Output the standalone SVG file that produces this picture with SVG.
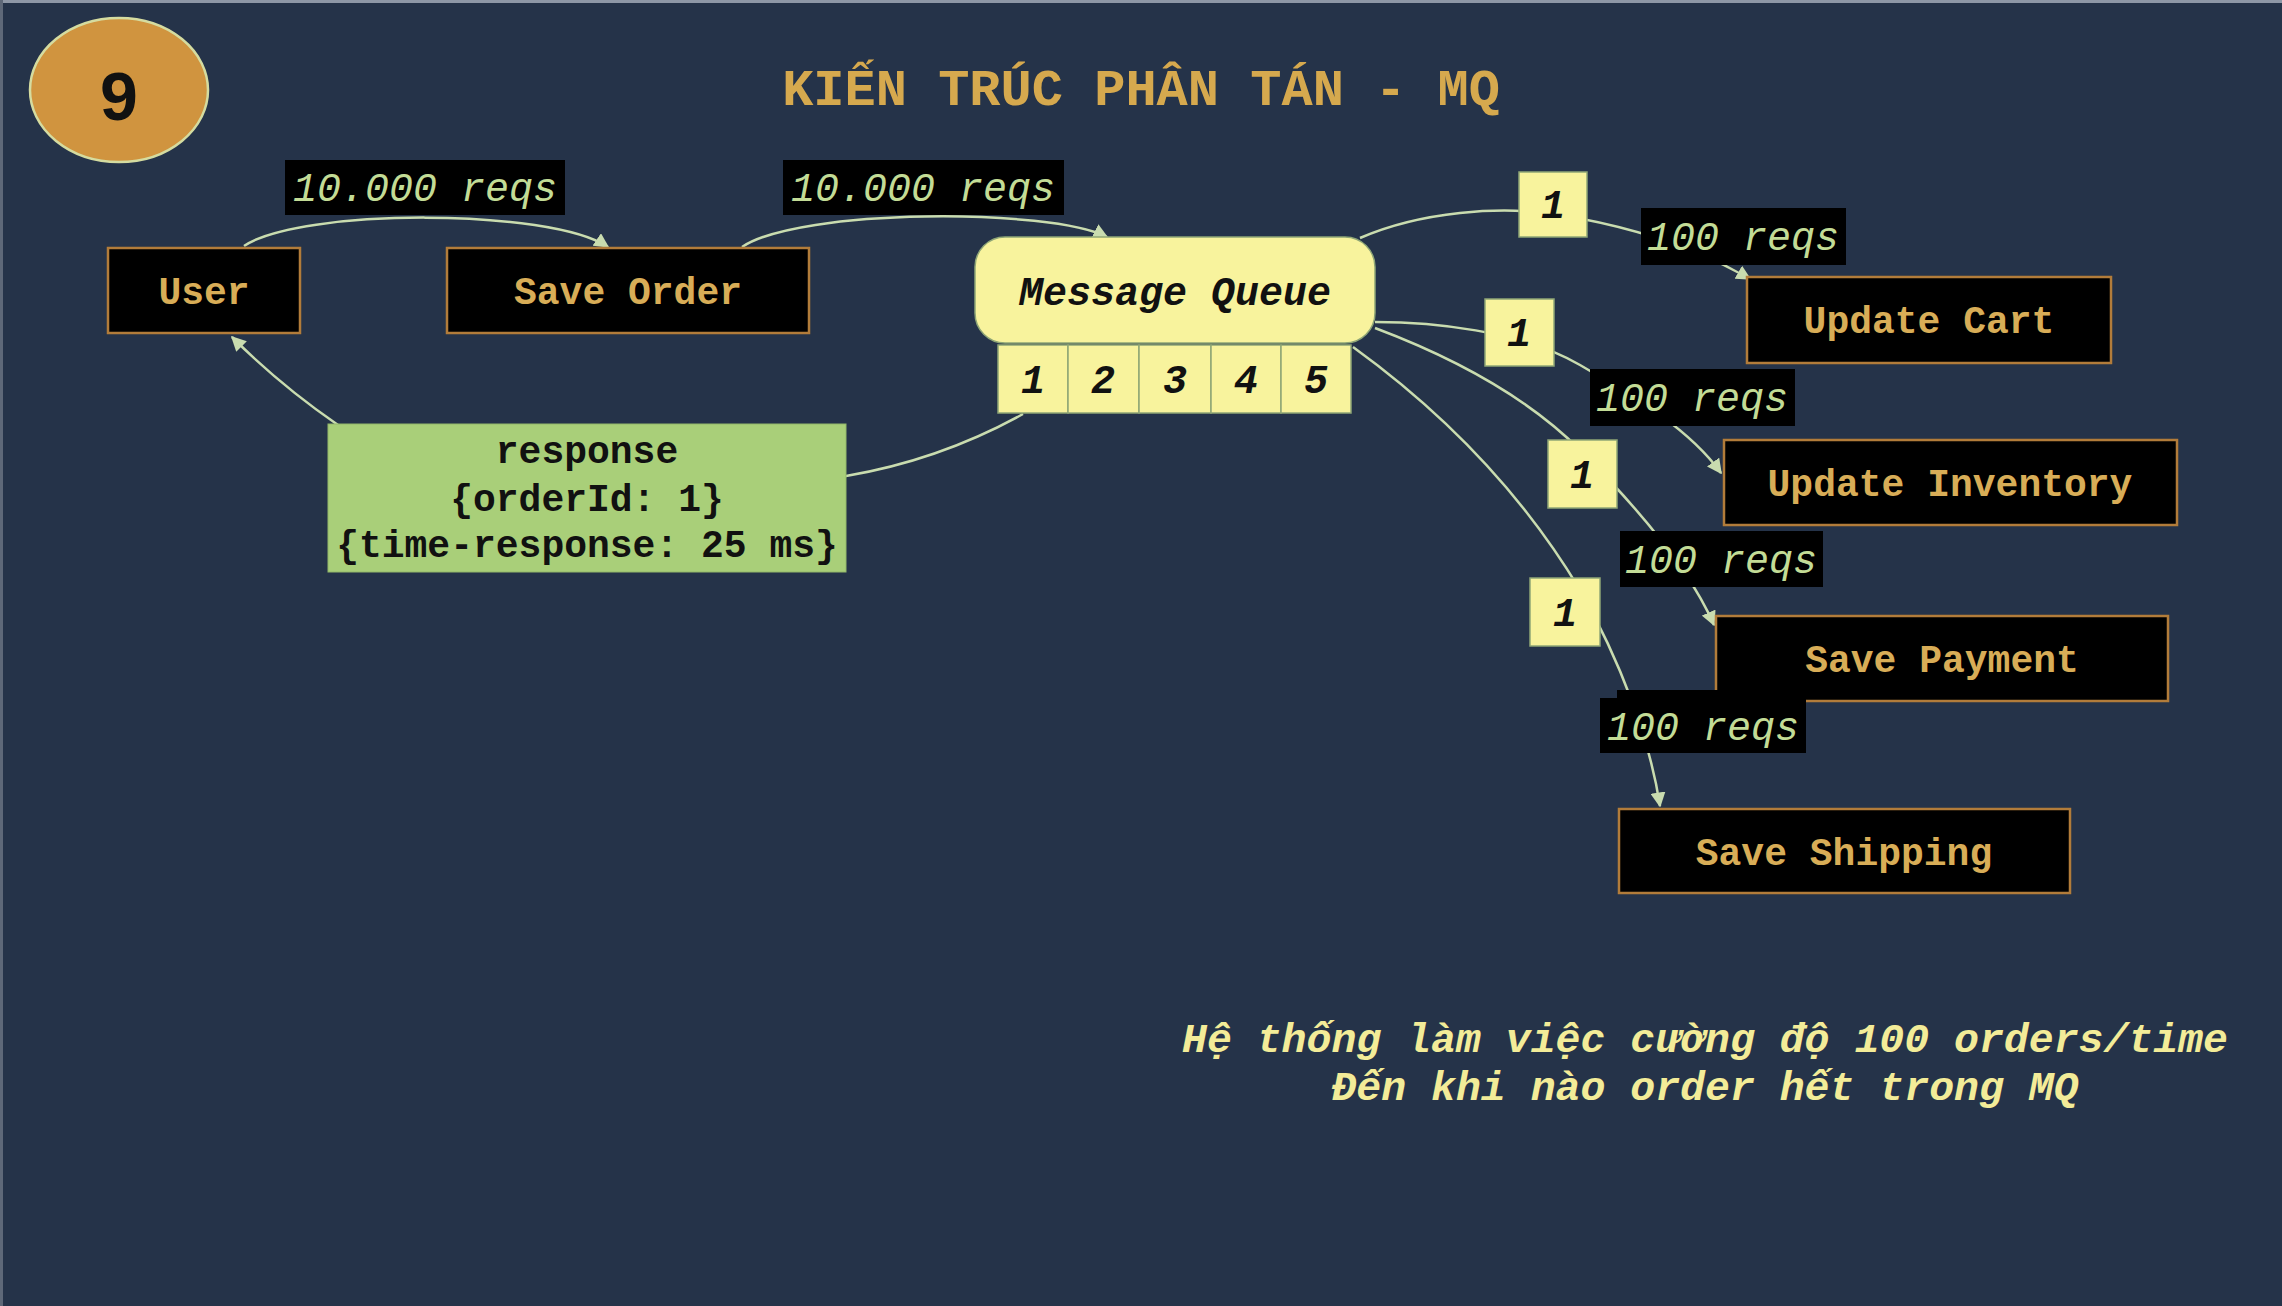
<svg xmlns="http://www.w3.org/2000/svg" width="2282" height="1306" viewBox="0 0 2282 1306">
<style>
.bg{fill:#253349}
.node rect.b{fill:#000;stroke:#B27C3A;stroke-width:2.5}
.nt{font-family:"Liberation Mono","Courier New",monospace;font-weight:bold;font-size:38px;fill:#D8AD57;text-anchor:middle}
rect.k{fill:#000}
.lt{font-family:"Liberation Mono","Courier New",monospace;font-style:italic;font-size:40px;fill:#C3DC96;text-anchor:middle}
rect.yb{fill:#F8F39D;stroke:#8FA676;stroke-width:1.5}
.yt{font-family:"Liberation Mono","Courier New",monospace;font-style:italic;font-weight:bold;font-size:40px;fill:#111;text-anchor:middle}
.conn path{fill:none;stroke:#C9DCAF;stroke-width:2.5}
.rt{font-family:"Liberation Mono","Courier New",monospace;font-weight:bold;font-size:38px;fill:#111;text-anchor:middle}
.bt{font-family:"Liberation Mono","Courier New",monospace;font-style:italic;font-weight:bold;font-size:41.5px;fill:#F3EC98;text-anchor:middle}
</style>
<defs>
<marker id="arr" viewBox="0 0 10 10" refX="9" refY="5" markerWidth="6" markerHeight="6" orient="auto"><path d="M0,0 L10,5 L0,10 z" fill="#C9DCAF"/></marker>
</defs>
<rect class="bg" x="0" y="0" width="2282" height="1306"/>
<line x1="0" y1="1.5" x2="2282" y2="1.5" stroke="#8E97A6" stroke-width="3"/>
<line x1="1.5" y1="0" x2="1.5" y2="1306" stroke="#5E6878" stroke-width="3"/>

<g id="badge">
<ellipse cx="119" cy="90" rx="89" ry="72" fill="#D0943F" stroke="#D5DCA0" stroke-width="2.5"/>
<text x="119" y="120" font-family="'Liberation Sans',Arial,sans-serif" font-weight="bold" font-size="68" fill="#111" text-anchor="middle">9</text>
</g>
<text id="title" x="1141" y="105" font-family="'Liberation Mono','Courier New',monospace" font-weight="bold" font-size="52" fill="#D6A94E" text-anchor="middle">KIẾN TRÚC PHÂN TÁN - MQ</text>

<g class="conn" id="connectors">
<path d="M244 246 C300 208, 550 208, 608 247" marker-end="url(#arr)"/>
<path d="M742 247 C800 208, 1050 208, 1107 237" marker-end="url(#arr)"/>
<path d="M1023 414 Q940 460 846 476 L338 425 Q280 385 232 337" marker-end="url(#arr)"/>
<path d="M1360 238 C1420 212, 1500 205, 1560 215 C1640 228, 1700 250, 1750 279" marker-end="url(#arr)"/>
<path d="M1375 322 C1430 322, 1520 330, 1580 365 C1640 400, 1690 430, 1721 473" marker-end="url(#arr)"/>
<path d="M1375 328 C1460 360, 1530 400, 1580 450 C1640 510, 1690 570, 1714 625" marker-end="url(#arr)"/>
<path d="M1353 347 C1440 410, 1520 490, 1580 590 C1620 660, 1650 740, 1660 806" marker-end="url(#arr)"/>
</g>

<g id="user" class="node"><rect class="b" x="108" y="248" width="192" height="85"/><text class="nt" x="204" y="304">User</text></g>
<g id="save-order" class="node"><rect class="b" x="447" y="248" width="362" height="85"/><text class="nt" x="628" y="304">Save Order</text></g>

<g id="message-queue">
<rect x="975" y="237" width="400" height="106" rx="30" fill="#F8F39D" stroke="#8FA676" stroke-width="1.5"/>
<text class="yt" x="1175" y="305">Message Queue</text>
<rect class="yb" x="998" y="345" width="70" height="68"/>
<rect class="yb" x="1068" y="345" width="71" height="68"/>
<rect class="yb" x="1139" y="345" width="72" height="68"/>
<rect class="yb" x="1211" y="345" width="70" height="68"/>
<rect class="yb" x="1281" y="345" width="70" height="68"/>
<text class="yt" x="1033" y="393">1</text>
<text class="yt" x="1103" y="393">2</text>
<text class="yt" x="1175" y="393">3</text>
<text class="yt" x="1246" y="393">4</text>
<text class="yt" x="1316" y="393">5</text>
</g>

<g id="response">
<rect x="328" y="424" width="518" height="148" fill="#A9CF79" stroke="#93B86A" stroke-width="1"/>
<text class="rt" x="587" y="463">response</text>
<text class="rt" x="587" y="511">{orderId: 1}</text>
<text class="rt" x="587" y="557">{time-response: 25 ms}</text>
</g>

<g id="update-cart" class="node"><rect class="b" x="1747" y="277" width="364" height="86"/><text class="nt" x="1929" y="333">Update Cart</text></g>
<g id="update-inventory" class="node"><rect class="b" x="1724" y="440" width="453" height="85"/><text class="nt" x="1950" y="496">Update Inventory</text></g>
<g id="save-payment" class="node"><rect class="b" x="1716" y="616" width="452" height="85"/><text class="nt" x="1942" y="672">Save Payment</text></g>
<g id="save-shipping" class="node"><rect class="b" x="1619" y="809" width="451" height="84"/><text class="nt" x="1844" y="865">Save Shipping</text></g>

<g id="edge-labels">
<rect class="k" x="285" y="160" width="280" height="55"/><text class="lt" x="425" y="201">10.000 reqs</text>
<rect class="k" x="783" y="160" width="281" height="55"/><text class="lt" x="923" y="201">10.000 reqs</text>
<rect class="yb" x="1519" y="172" width="68" height="65"/><text class="yt" x="1553" y="218">1</text>
<rect class="k" x="1641" y="208" width="205" height="57"/><text class="lt" x="1743" y="250">100 reqs</text>
<rect class="yb" x="1485" y="299" width="69" height="67"/><text class="yt" x="1519" y="346">1</text>
<rect class="k" x="1590" y="369" width="205" height="57"/><text class="lt" x="1692" y="411">100 reqs</text>
<rect class="yb" x="1548" y="440" width="69" height="68"/><text class="yt" x="1582" y="488">1</text>
<rect class="k" x="1620" y="531" width="203" height="56"/><text class="lt" x="1721" y="573">100 reqs</text>
<rect class="yb" x="1530" y="578" width="70" height="68"/><text class="yt" x="1565" y="626">1</text>
<rect class="k" x="1617" y="690" width="103" height="20"/>
<rect class="k" x="1600" y="698" width="206" height="55"/><text class="lt" x="1703" y="740">100 reqs</text>
</g>

<g id="note">
<text class="bt" x="1705" y="1052">Hệ thống làm việc cường độ 100 orders/time</text>
<text class="bt" x="1705" y="1100">Đến khi nào order hết trong MQ</text>
</g>
</svg>
